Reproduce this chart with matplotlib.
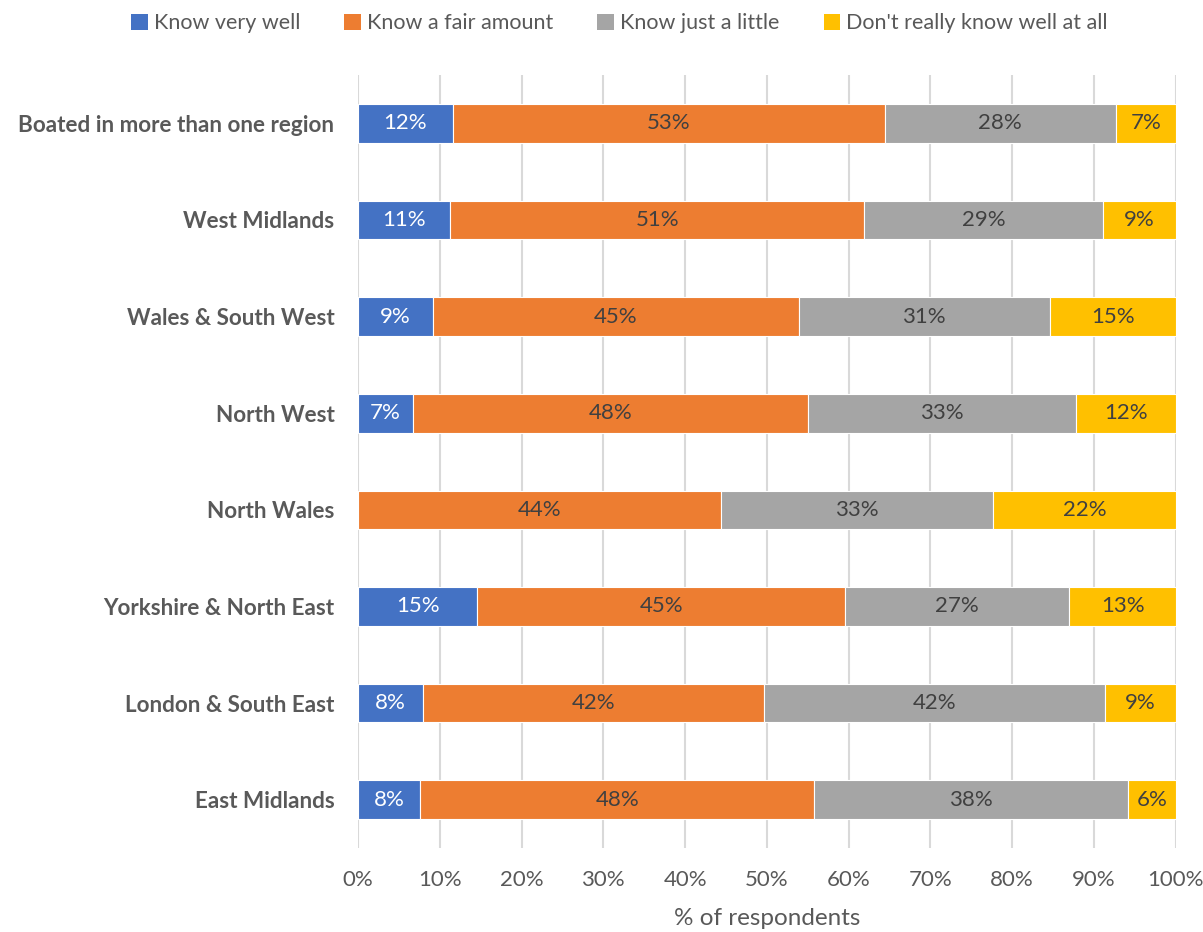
import matplotlib
matplotlib.use("Agg")
import matplotlib.pyplot as plt
from matplotlib.patches import Patch
import numpy as np

plt.rcParams['font.family'] = ['Lato', 'DejaVu Sans']

regions = [
    "Boated in more than one region",
    "West Midlands",
    "Wales & South West",
    "North West",
    "North Wales",
    "Yorkshire & North East",
    "London & South East",
    "East Midlands",
]
series_names = [
    "Know very well",
    "Know a fair amount",
    "Know just a little",
    "Don't really know well at all",
]
know_very_well = [11.6, 11.3, 9.2, 6.7, 0.0, 14.6, 8.0, 7.6]
know_fair_amount = [52.8, 50.6, 44.7, 48.3, 44.4, 45.0, 41.7, 48.2]
know_little = [28.3, 29.2, 30.7, 32.8, 33.3, 27.4, 41.7, 38.4]
dont_know = [7.3, 8.9, 15.4, 12.2, 22.3, 13.0, 8.6, 5.8]

colors = ["#4472C4", "#ED7D31", "#A5A5A5", "#FFC000"]
label_colors = ["white", "#404040", "#404040", "#404040"]

fig = plt.figure(figsize=(12.03, 9.32), dpi=100)
ax = fig.add_axes([0.2976, 0.0901, 0.6797, 0.8294])

y = np.arange(len(regions))
left = np.zeros(len(regions))
for vals, col, lcol, name in zip(
        [know_very_well, know_fair_amount, know_little, dont_know],
        colors, label_colors, series_names):
    vals = np.array(vals)
    ax.barh(y, vals, left=left, height=0.4, color=col,
            edgecolor="white", linewidth=0.8, label=name, zorder=3)
    for xi, yi, v in zip(left, y, vals):
        if v > 0:
            ax.text(xi + v / 2, yi, f"{v:.0f}%", ha="center", va="center",
                    color=lcol, fontsize=16, zorder=4)
    left += vals

ax.set_xlim(0, 100)
ax.set_ylim(len(regions) - 0.5, -0.5)
ax.set_xticks(np.arange(0, 101, 10))
ax.set_xticklabels([f"{t}%" for t in range(0, 101, 10)], fontsize=16,
                   color="#595959")
ax.set_yticks(y)
ax.set_yticklabels(regions, fontsize=16.2, fontweight="bold", color="#595959")
ax.tick_params(axis="x", length=0, pad=16)
ax.tick_params(axis="y", length=0, pad=17)
ax.grid(axis="x", color="#D9D9D9", linewidth=1.5, zorder=0)
ax.set_axisbelow(True)
for s in ax.spines.values():
    s.set_visible(False)
ax.set_xlabel("% of respondents", fontsize=17.5, color="#595959", labelpad=13)

handles = [Patch(facecolor=c, edgecolor="none") for c in colors]
fig.legend(handles, series_names, loc="center", bbox_to_anchor=(0.515, 0.975),
           ncol=4, frameon=False, fontsize=15.5, handlelength=0.75,
           handleheight=0.75, handletextpad=0.3, columnspacing=2.05,
           labelcolor="#595959")

fig.savefig("out.png", dpi=100)
